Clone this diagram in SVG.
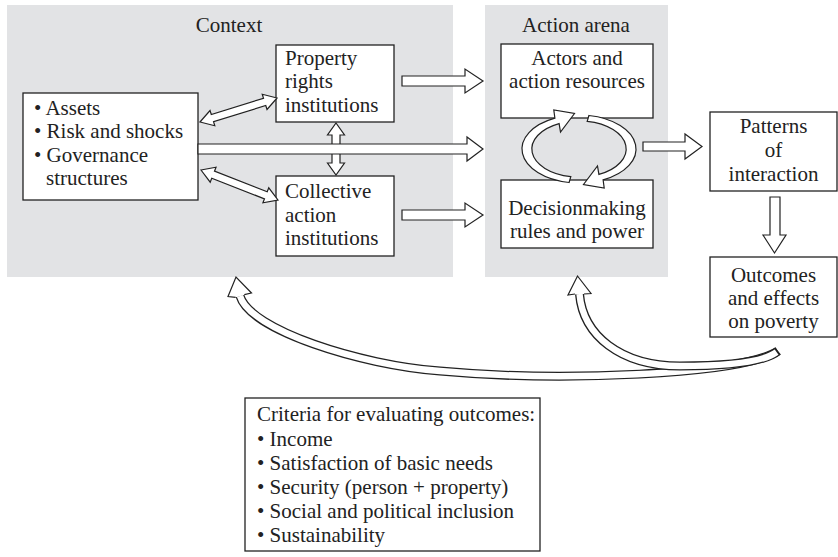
<svg xmlns="http://www.w3.org/2000/svg" width="838" height="557" viewBox="0 0 838 557">
<style>
  .panel { fill: #e2e3e5; }
  .box { fill: #ffffff; stroke: #222; stroke-width: 1.3; }
  .t { font-family: "Liberation Serif", "Times New Roman", serif; font-size: 21px; fill: #222; }
  .c { text-anchor: middle; }
  .arr { fill: #ffffff; stroke: #222; stroke-width: 1.2; stroke-linejoin: miter; }
  .bandk { fill: none; stroke: #222; stroke-width: 9; }
  .bandw { fill: none; stroke: #ffffff; stroke-width: 6.4; }
</style>
<rect width="838" height="557" fill="#ffffff"/>

<g id="context-panel">
  <rect class="panel" x="7" y="5" width="446" height="272"/>
  <text class="t c" x="229" y="32">Context</text>
</g>
<g id="action-arena-panel">
  <rect class="panel" x="485" y="5" width="183" height="272"/>
  <text class="t c" x="576" y="32">Action arena</text>
</g>

<g id="context-factors">
  <rect class="box" x="23" y="93" width="175" height="107"/>
  <text class="t" x="34" y="115">• Assets</text>
  <text class="t" x="34" y="138">• Risk and shocks</text>
  <text class="t" x="34" y="162">• Governance</text>
  <text class="t" x="46" y="185">structures</text>
</g>
<g id="property-rights">
  <rect class="box" x="276" y="45" width="118" height="77"/>
  <text class="t" x="285" y="65">Property</text>
  <text class="t" x="285" y="88">rights</text>
  <text class="t" x="285" y="112">institutions</text>
</g>
<g id="collective-action">
  <rect class="box" x="276" y="176" width="118" height="80"/>
  <text class="t" x="285" y="198">Collective</text>
  <text class="t" x="285" y="222">action</text>
  <text class="t" x="285" y="245">institutions</text>
</g>
<g id="actors">
  <rect class="box" x="501" y="44" width="152" height="74"/>
  <text class="t c" x="577" y="65">Actors and</text>
  <text class="t c" x="577" y="88">action resources</text>
</g>
<g id="decisionmaking">
  <rect class="box" x="501" y="180" width="152" height="68"/>
  <text class="t c" x="577" y="215">Decisionmaking</text>
  <text class="t c" x="577" y="238">rules and power</text>
</g>
<g id="patterns">
  <rect class="box" x="710" y="112" width="127" height="79"/>
  <text class="t c" x="773.5" y="133">Patterns</text>
  <text class="t c" x="773.5" y="157">of</text>
  <text class="t c" x="773.5" y="181">interaction</text>
</g>
<g id="outcomes">
  <rect class="box" x="710" y="257" width="127" height="80"/>
  <text class="t c" x="773.5" y="282">Outcomes</text>
  <text class="t c" x="773.5" y="305">and effects</text>
  <text class="t c" x="773.5" y="328">on poverty</text>
</g>
<g id="criteria">
  <rect class="box" x="245" y="398" width="295" height="153"/>
  <text class="t" x="257" y="421">Criteria for evaluating outcomes:</text>
  <text class="t" x="257" y="446">• Income</text>
  <text class="t" x="257" y="470">• Satisfaction of basic needs</text>
  <text class="t" x="257" y="494">• Security (person + property)</text>
  <text class="t" x="257" y="518">• Social and political inclusion</text>
  <text class="t" x="257" y="542">• Sustainability</text>
</g>

<g id="connectors">
  <!-- vertical double arrow between institutions (under long arrow) -->
  <polygon class="arr" points="336,123 344.5,135 340,135 340,163 344.5,163 336,175 327.5,163 332,163 332,135 327.5,135"/>
  <!-- diagonal double arrows -->
  <polygon class="arr" transform="translate(200 122) rotate(-17.3)" points="0,0 13,-8 13,-3.8 67.7,-3.8 67.7,-8 80.7,0 67.7,8 67.7,3.8 13,3.8 13,8"/>
  <polygon class="arr" transform="translate(201 170) rotate(21.3)" points="0,0 13,-8 13,-3.8 69.6,-3.8 69.6,-8 82.6,0 69.6,8 69.6,3.8 13,3.8 13,8"/>
  <!-- long arrow context -> action arena -->
  <polygon class="arr" points="198,144 467,144 467,137 483,149 467,161 467,154 198,154"/>
  <!-- property -> actors -->
  <polygon class="arr" points="402,76 465,76 465,69 483,81 465,93 465,86 402,86"/>
  <!-- collective -> decisionmaking -->
  <polygon class="arr" points="402,210 465,210 465,203 483,215 465,227 465,220 402,220"/>
  <!-- action arena -> patterns -->
  <polygon class="arr" points="643,142 685,142 685,134 702,146.5 685,159 685,151 643,151"/>
  <!-- patterns -> outcomes -->
  <polygon class="arr" points="770,197 780,197 780,235 786,235 774.5,253 763,235 770,235"/>
  <!-- cycle arrows -->
  <path class="arr" d="M 569.1 182.5 A 57 34 0 0 1 554.9 118.2 L 553.8 110 L 574.5 113.5 L 560.5 132 L 559.1 123.6 A 47 28 0 0 0 570.8 176.6 Z"/>
  <path class="arr" transform="rotate(180 579 149)" d="M 569.1 182.5 A 57 34 0 0 1 554.9 118.2 L 553.8 110 L 574.5 113.5 L 560.5 132 L 559.1 123.6 A 47 28 0 0 0 570.8 176.6 Z"/>
  <!-- feedback: outcomes -> context -->
  <path class="bandk" d="M 240 296 C 250 330, 360 365, 440 371 C 560 382, 740 375, 778 351"/>
  <path class="bandw" pathLength="1000" stroke-dasharray="996 20" d="M 240 296 C 250 330, 360 365, 440 371 C 560 382, 740 375, 778 351"/>
  <path class="arr" d="M 244.3 294.7 L 251.5 293 L 236 277 L 228 296.5 L 235.7 297.3"/>
  <!-- feedback: outcomes -> action arena -->
  <path class="bandk" d="M 579.5 294 C 583 335, 620 366, 680 366 C 730 366, 765 362, 778 351"/>
  <path class="bandw" pathLength="1000" stroke-dasharray="992 20" d="M 579.5 294 C 583 335, 620 366, 680 366 C 730 366, 765 362, 778 351"/>
  <path class="arr" d="M 584 294 L 591 293.5 L 577.5 276 L 568 295 L 575 294"/>
</g>
</svg>
